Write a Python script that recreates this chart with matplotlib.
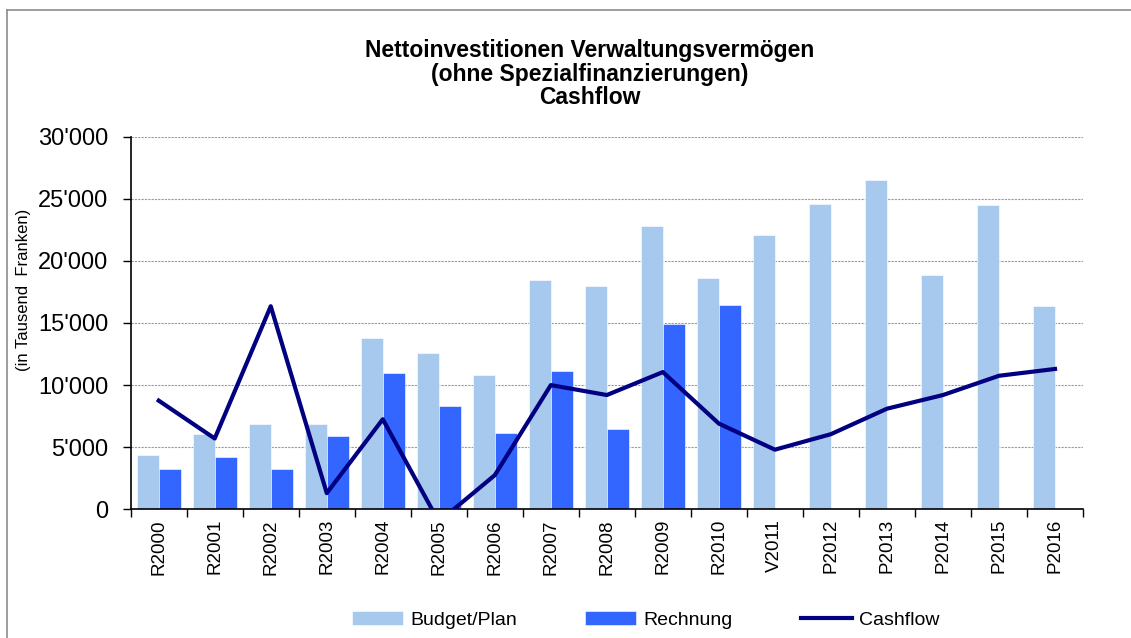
import numpy as np
import matplotlib
matplotlib.use("Agg")
from matplotlib import pyplot as plt
from matplotlib.lines import Line2D
from matplotlib.ticker import FuncFormatter, MultipleLocator, FixedLocator

plt.rcParams['font.family'] = ['Liberation Sans', 'DejaVu Sans']

years = ["R2000", "R2001", "R2002", "R2003", "R2004", "R2005", "R2006", "R2007", "R2008",
         "R2009", "R2010", "V2011", "P2012", "P2013", "P2014", "P2015", "P2016"]
budget = [4350, 6050, 6900, 6900, 13800, 12600, 10850, 18450, 18000,
          22800, 18650, 22100, 24600, 26500, 18900, 24500, 16350]
rechnung = [3250, 4250, 3250, 5900, 11000, 8350, 6150, 11100, 6500,
            14950, 16450, np.nan, np.nan, np.nan, np.nan, np.nan, np.nan]
cashflow = [8750, 5700, 16350, 1300, 7250, -1000, 2750, 10000, 9200,
            11050, 6900, 4800, 6050, 8100, 9200, 10750, 11300]

W, H = 1131, 638
fig = plt.figure(figsize=(W / 100, H / 100), dpi=100)
ax = fig.add_axes([130.7 / W, 1 - 509.3 / H, (1083 - 130.7) / W, (509.3 - 136.7) / H])

x = np.arange(len(years))
bw = 0.39
b1 = ax.bar(x - bw / 2, budget, width=bw, color='#A7C9EE', edgecolor='white', linewidth=0.4,
            label='Budget/Plan', zorder=2)
b2 = ax.bar(x + bw / 2, rechnung, width=bw, color='#3366FF', edgecolor='white', linewidth=0.4,
            label='Rechnung', zorder=2)
l1, = ax.plot(x, cashflow, color='#000080', linewidth=3, label='Cashflow', zorder=3)

ax.set_xlim(-0.5, len(years) - 0.5)
ax.set_ylim(0, 30000)

# y axis
ax.yaxis.set_major_locator(MultipleLocator(5000))
ax.yaxis.set_major_formatter(FuncFormatter(lambda v, p: f"{int(v):,}".replace(",", "'")))
ax.tick_params(axis='y', labelsize=17, direction='out', length=6, width=1, pad=10)
ax.yaxis.grid(True, color='#9A9A9A', linestyle=(0, (2, 1)), linewidth=0.8)
ax.set_axisbelow(True)

# x axis: labels at centers, ticks between categories
ax.set_xticks(x)
ax.set_xticklabels(years, rotation=90, fontsize=13.5)
ax.tick_params(axis='x', which='major', length=0, pad=7)
ax.xaxis.set_minor_locator(FixedLocator(np.arange(-0.5, len(years), 1.0)))
ax.tick_params(axis='x', which='minor', direction='out', length=6, width=1)

for s in ['top', 'right']:
    ax.spines[s].set_visible(False)
ax.spines['left'].set_linewidth(1.2)
ax.spines['bottom'].set_linewidth(1.2)

fig.text(24 / W, 1 - 290 / H, "(in Tausend  Franken)", rotation=90, ha='center', va='center',
         fontsize=12)

fig.text(590 / W, 1 - 74 / H,
         "Nettoinvestitionen Verwaltungsvermögen\n(ohne Spezialfinanzierungen)\nCashflow",
         ha='center', va='center', fontsize=16.5, fontweight='bold', linespacing=1.05)

fig.legend(handles=[b1, b2, l1], loc='center', bbox_to_anchor=(646 / W, 1 - 620 / H), ncol=3,
           frameon=False, fontsize=14, handlelength=2.6, handleheight=0.75, columnspacing=3.5,
           handletextpad=0.4)

# chart area frame (left and top)
fig.add_artist(Line2D([7 / W, 7 / W], [0, 1 - 10 / H], color='#8C8C8C', linewidth=1.2))
fig.add_artist(Line2D([7 / W, 1], [1 - 10 / H, 1 - 10 / H], color='#8C8C8C', linewidth=1.2))

fig.savefig("out.png", dpi=100)
